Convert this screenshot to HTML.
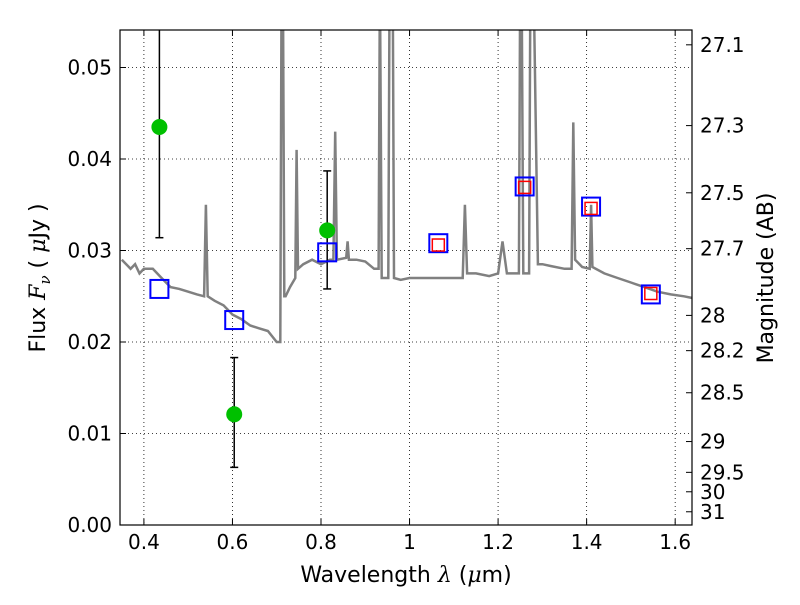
<!DOCTYPE html>
<html><head><meta charset="utf-8"><style>
body{margin:0;background:#fff;}
text{font-family:"DejaVu Sans","Liberation Sans",sans-serif;}
</style></head><body>
<svg id="chart" width="800" height="600" xmlns="http://www.w3.org/2000/svg"></svg>
<script>
const xTicks=[0.4,0.6,0.8,1.0,1.2,1.4,1.6];
const xTickLabels=["0.4","0.6","0.8","1","1.2","1.4","1.6"];
const yTicks=[0,0.01,0.02,0.03,0.04,0.05];
const yTickLabels=["0.00","0.01","0.02","0.03","0.04","0.05"];
const magTicks=[27.1,27.3,27.5,27.7,28,28.2,28.5,29,29.5,30,31];
const specWave=[0.35,0.36,0.37,0.38,0.39,0.40,0.42,0.44,0.46,0.48,0.50,0.52,0.536,0.54,0.544,0.56,0.58,0.60,0.62,0.64,0.66,0.68,0.70,0.708,0.711,0.714,0.717,0.72,0.73,0.742,0.745,0.748,0.76,0.78,0.80,0.82,0.828,0.832,0.836,0.857,0.86,0.863,0.88,0.90,0.92,0.93,0.933,0.937,0.94,0.952,0.955,0.962,0.965,0.98,1.00,1.02,1.05,1.08,1.10,1.12,1.125,1.13,1.15,1.18,1.20,1.21,1.22,1.24,1.247,1.25,1.253,1.257,1.27,1.273,1.28,1.29,1.30,1.32,1.35,1.366,1.37,1.374,1.39,1.407,1.41,1.413,1.44,1.47,1.50,1.53,1.56,1.59,1.62,1.64];
const specFlux=[0.029,0.0285,0.028,0.0285,0.0275,0.028,0.028,0.027,0.026,0.0258,0.0255,0.0252,0.025,0.035,0.025,0.0245,0.024,0.023,0.0225,0.0218,0.0215,0.0212,0.020,0.020,0.06,0.06,0.025,0.025,0.026,0.027,0.041,0.028,0.0285,0.029,0.0285,0.029,0.029,0.043,0.029,0.0292,0.031,0.029,0.029,0.0288,0.028,0.028,0.06,0.027,0.027,0.027,0.06,0.06,0.027,0.0268,0.027,0.027,0.027,0.027,0.027,0.027,0.035,0.0275,0.0275,0.0272,0.0275,0.031,0.0275,0.0275,0.0275,0.06,0.06,0.0275,0.0275,0.06,0.06,0.0285,0.0285,0.0283,0.028,0.028,0.044,0.029,0.0282,0.028,0.035,0.0282,0.0275,0.027,0.0265,0.026,0.0255,0.0252,0.025,0.0248];
const photWave=[0.435,0.604,0.814];
const photFlux=[0.0435,0.0121,0.0322];
const photLo=[0.0314,0.0063,0.0258];
const photHi=[0.06,0.0183,0.0387];
const modelWave=[0.435,0.604,0.814,1.065,1.26,1.41,1.545];
const modelFlux=[0.0258,0.0224,0.0298,0.0308,0.0370,0.0348,0.0252];
const redWave=[1.065,1.26,1.41,1.545];
const redFlux=[0.0306,0.0369,0.0346,0.0253];

const L=120,R=692,T=30,B=525,xmin=0.346,xmax=1.638,ymin=0,ymax=0.0541;
const X=v=>L+(v-xmin)/(xmax-xmin)*(R-L);
const Y=v=>B-(v-ymin)/(ymax-ymin)*(B-T);
const svg=document.getElementById('chart');
const NS="http://www.w3.org/2000/svg";
function mk(tag,attrs,parent){const e=document.createElementNS(NS,tag);for(const k in attrs)e.setAttribute(k,attrs[k]);(parent||svg).appendChild(e);return e;}
const defs=mk('clipPath',{id:'clip'});mk('rect',{x:L,y:T,width:R-L,height:B-T},defs);
xTicks.forEach((t,i)=>{
 const g=mk('line',{x1:X(t),x2:X(t),y1:T,y2:B,stroke:'#000','stroke-dasharray':'1,3','stroke-width':0.8});
 
 
 mk('line',{x1:X(t),x2:X(t),y1:B,y2:B-6,stroke:'#000'});
 mk('line',{x1:X(t),x2:X(t),y1:T,y2:T+6,stroke:'#000'});
 const tx=mk('text',{x:X(t),y:B+24,'font-size':20,'text-anchor':'middle'});tx.textContent=xTickLabels[i];
 
 
});
yTicks.forEach((t,i)=>{
 if(t>0&&t<ymax){const g=mk('line',{x1:L,x2:R,y1:Y(t),y2:Y(t),stroke:'#000','stroke-dasharray':'1,3','stroke-width':0.8});
 
 }
 mk('line',{x1:L,x2:L+6,y1:Y(t),y2:Y(t),stroke:'#000'});
 const tx=mk('text',{x:L-8,y:Y(t)+7,'font-size':20,'text-anchor':'end'});tx.textContent=yTickLabels[i];
 
 
});
magTicks.forEach(m=>{
 const f=Math.pow(10,(23.9-m)/2.5);const y=Y(f);
 mk('line',{x1:R,x2:R-6,y1:y,y2:y,stroke:'#000'});
 const tx=mk('text',{x:R+8,y:y+7,'font-size':20});tx.textContent=String(m);
 
 
});
let d=specWave.map((w,i)=>(i?'L':'M')+X(w).toFixed(1)+','+Y(specFlux[i]).toFixed(1)).join('');
const sp=mk('path',{d:d,fill:'none',stroke:'#808080','stroke-width':2.5,'clip-path':'url(#clip)'});


photWave.forEach((w,i)=>{
 const x=X(w);
 const eb=mk('line',{x1:x,x2:x,y1:Y(Math.min(photHi[i],ymax)),y2:Y(photLo[i]),stroke:'#000','stroke-width':1.5});
 
 
 mk('line',{x1:x-4,x2:x+4,y1:Y(photLo[i]),y2:Y(photLo[i]),stroke:'#000','stroke-width':1.5});
 if(photHi[i]<ymax)mk('line',{x1:x-4,x2:x+4,y1:Y(photHi[i]),y2:Y(photHi[i]),stroke:'#000','stroke-width':1.5});
});
modelWave.forEach((w,i)=>{
 const s=mk('rect',{x:X(w)-9,y:Y(modelFlux[i])-9,width:18,height:18,fill:'none',stroke:'#0000ff','stroke-width':2});
 
 
});
redWave.forEach((w,i)=>{
 const s=mk('rect',{x:X(w)-6,y:Y(redFlux[i])-6,width:12,height:12,fill:'none',stroke:'#ff0000','stroke-width':1.5});
 
 
});
photWave.forEach((w,i)=>{
 const c=mk('circle',{cx:X(w),cy:Y(photFlux[i]),r:8,fill:'#00c000'});
 
 
});
const fr=mk('rect',{x:L,y:T,width:R-L,height:B-T,fill:'none',stroke:'#000','stroke-width':1.2});


const xl=mk('text',{x:406,y:582,'font-size':22,'text-anchor':'middle'});
xl.innerHTML='Wavelength  <tspan font-style="italic" font-family="DejaVu Serif, serif">λ</tspan> (<tspan font-style="italic" font-family="DejaVu Serif, serif">μ</tspan>m)';


const yl=mk('text',{x:0,y:0,'font-size':22,'text-anchor':'middle',transform:'translate(45,278) rotate(-90)'});
yl.innerHTML='Flux  <tspan font-style="italic" font-family="DejaVu Serif, serif">F</tspan><tspan font-style="italic" font-size="15" dy="5" font-family="DejaVu Serif, serif">ν</tspan><tspan dy="-5"> ( </tspan><tspan font-style="italic" font-family="DejaVu Serif, serif">μ</tspan>Jy )';


const ml=mk('text',{x:0,y:0,'font-size':22,'text-anchor':'middle',transform:'translate(773,278) rotate(-90)'});
ml.textContent='Magnitude (AB)';


</script>
</body></html>
